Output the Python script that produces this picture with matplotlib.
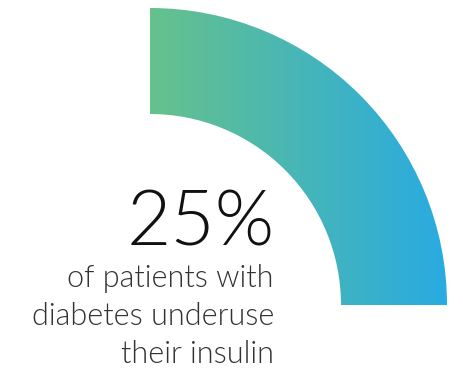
import numpy as np
import matplotlib
matplotlib.use("Agg")
import matplotlib.pyplot as plt
from matplotlib.patches import Wedge
from matplotlib.colors import LinearSegmentedColormap

# data
share_pct = 25
headline = f"{share_pct}%"
caption_lines = ["of patients with", "diabetes underuse", "their insulin"]
grad_colors = ["#66c18c", "#29abe2"]

W, H = 464, 374
fig = plt.figure(figsize=(W / 100, H / 100), dpi=100)
ax = fig.add_axes([0, 0, 1, 1])
ax.set_xlim(0, W)
ax.set_ylim(H, 0)
ax.axis("off")

cx, cy = 150, 305
r_out, r_in = 297, 191
sweep = 360 * share_pct / 100

# y axis is flipped, so negative angles run clockwise from the top
wedge = Wedge((cx, cy), r_out, -sweep, 0, width=r_out - r_in,
              facecolor="none", edgecolor="none", transform=ax.transData)
ax.add_patch(wedge)

cmap = LinearSegmentedColormap.from_list("g", grad_colors)
grad = np.linspace(0, 1, 256).reshape(1, -1)
im = ax.imshow(grad, cmap=cmap, aspect="auto",
               extent=(cx, cx + r_out, cy, cy - r_out), zorder=1)
im.set_clip_path(wedge)
ax.set_xlim(0, W)
ax.set_ylim(H, 0)

ax.text(275, 245, headline, ha="right", va="baseline", fontsize=55,
        family="Lato", fontweight=300, color="#111111")
for i, line in enumerate(caption_lines):
    ax.text(274, 287 + i * 38, line, ha="right", va="baseline", fontsize=22,
            family="Lato", fontweight=300, color="#333333")

fig.savefig("out.png", dpi=100)
